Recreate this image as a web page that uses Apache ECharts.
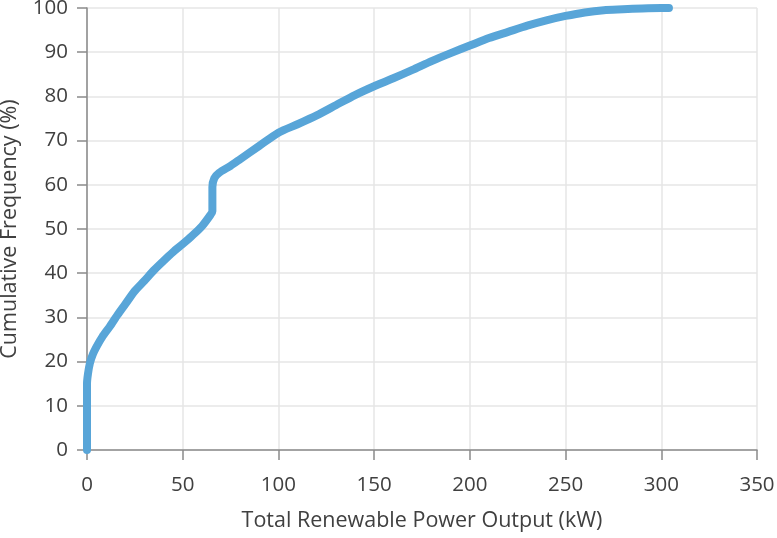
<!DOCTYPE html>
<html>
<head>
<meta charset="utf-8">
<script src="https://cdn.jsdelivr.net/npm/echarts@6/dist/echarts.min.js"></script>
<style>html,body{margin:0;padding:0;background:#fff;}#c{width:777px;height:538px;}</style>
</head>
<body>
<div id="c"></div>
<script>
const powerKW = [0,0,0.5,1.5,3,5,8,12,16,20,25,30,35,40,45,50,55,60,64.5,65.5,65.5,66.5,69,75,80,90,100,110,120,130,140,150,160,170,180,190,200,210,220,230,240,250,260,270,280,290,300,304];
const cumFreq = [0,15,17.2,19.6,21.6,23.4,25.6,28,30.6,33,36,38.3,40.7,42.8,44.8,46.6,48.5,50.6,53.2,54,59.5,61.5,62.7,64.3,65.8,68.8,71.8,73.7,75.7,78,80.3,82.3,84.1,86,88,89.8,91.5,93.2,94.6,96,97.2,98.2,99,99.5,99.7,99.9,100,100];
const xTicks = [0,50,100,150,200,250,300,350];
const yTicks = [0,10,20,30,40,50,60,70,80,90,100];
const xTitle = 'Total Renewable Power Output (kW)';
const yTitle = 'Cumulative Frequency (%)';

const font = "'Open Sans', 'Noto Sans', sans-serif";
const txt = '#404040';
const chart = echarts.init(document.getElementById('c'), null, {renderer:'canvas'});
chart.setOption({
  animation:false,
  grid:{left:87,right:20,top:8,bottom:88,containLabel:false,outerBoundsMode:'none'},
  xAxis:{
    type:'value', min:xTicks[0], max:xTicks[xTicks.length-1], interval:50,
    name:xTitle, nameLocation:'middle', nameGap:60,
    nameTextStyle:{fontFamily:font,fontSize:21.5,color:txt},
    axisLine:{show:true,lineStyle:{color:'#8a8a8a',width:1.5}},
    axisTick:{show:true,length:10,lineStyle:{color:'#8a8a8a',width:1.5}},
    axisLabel:{margin:25,fontFamily:font,fontSize:20.5,color:txt},
    splitLine:{show:true,lineStyle:{color:'#e6e6e6',width:1.5}}
  },
  yAxis:{
    type:'value', min:yTicks[0], max:yTicks[yTicks.length-1], interval:10,
    name:yTitle, nameLocation:'middle', nameGap:66, nameRotate:90,
    nameTextStyle:{fontFamily:font,fontSize:21.5,color:txt},
    axisLine:{show:true,lineStyle:{color:'#8a8a8a',width:1.5}},
    axisTick:{show:true,length:10,lineStyle:{color:'#8a8a8a',width:1.5}},
    axisLabel:{margin:19,fontFamily:font,fontSize:20.5,color:txt},
    splitLine:{show:true,lineStyle:{color:'#e6e6e6',width:1.5}}
  },
  series:[{
    type:'line',
    data: powerKW.map((x,i)=>[x,cumFreq[i]]),
    showSymbol:false, symbol:'none',
    smooth:0.25,
    lineStyle:{color:'#58a5d8',width:8,cap:'round',join:'round'},
    clip:true
  }]
});
</script>
</body>
</html>
